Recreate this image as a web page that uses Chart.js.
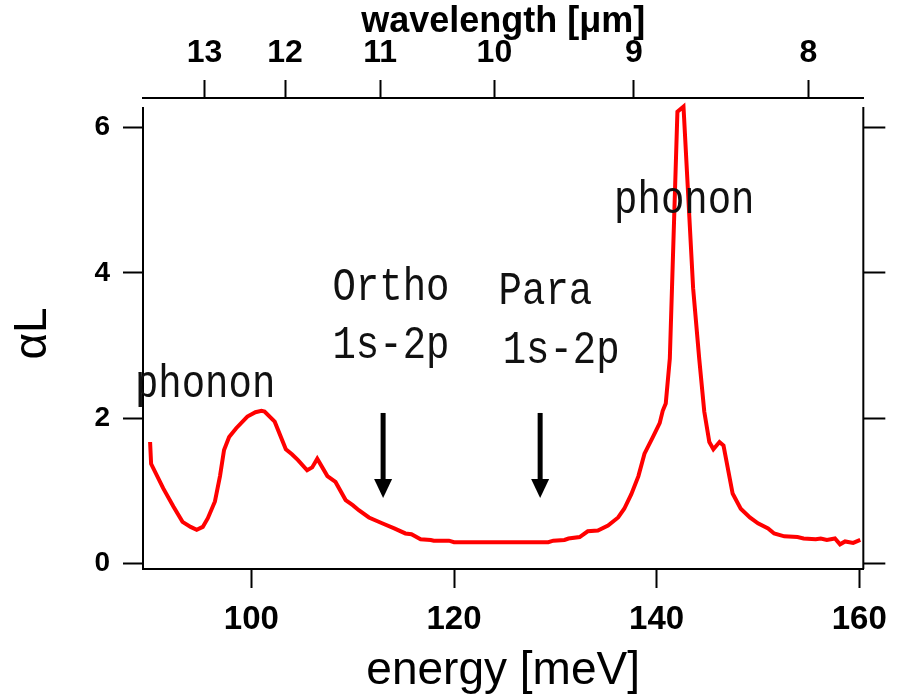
<!DOCTYPE html>
<html>
<head>
<meta charset="utf-8">
<script src="https://cdn.jsdelivr.net/npm/chart.js@4.4.0/dist/chart.umd.min.js"></script>
<style>
  html, body { margin: 0; padding: 0; background: #fff; }
</style>
</head>
<body>
<canvas id="absChart" width="899" height="699"></canvas>
<script>
// absorption spectrum
const energy = [
  90.0, 90.1, 91.3, 92.3, 93.2, 94.0, 94.6, 95.2, 95.7, 96.4,
  96.9, 97.3, 97.8, 98.5, 99.6, 100.4, 101.0, 101.3, 102.3, 103.4,
  104.0, 104.6, 105.5, 106.0, 106.5, 107.5, 108.3, 109.3, 110.0, 110.6,
  111.6, 112.9, 114.1, 115.2, 115.8, 116.7, 117.7, 118.0, 119.5, 120.0,
  122.0, 124.0, 126.0, 128.0, 129.3, 129.8, 130.9, 131.3, 132.4, 133.2,
  134.2, 135.2, 136.2, 136.8, 137.5, 138.2, 138.8, 139.6, 140.3, 140.6,
  140.9, 141.3, 142.05, 142.65, 143.6, 144.2, 144.7, 145.2, 145.6, 146.2,
  146.6, 147.5, 148.3, 149.2, 150.0, 151.0, 151.6, 152.6, 153.9, 154.5,
  155.7, 156.2, 156.8, 157.6, 158.1, 158.6, 159.4, 160.1
];
const alphaL = [
  1.67, 1.37, 1.03, 0.78, 0.57, 0.50, 0.46, 0.50, 0.62, 0.85,
  1.20, 1.56, 1.74, 1.86, 2.02, 2.08, 2.10, 2.09, 1.95, 1.57,
  1.50, 1.42, 1.28, 1.32, 1.44, 1.20, 1.12, 0.87, 0.80, 0.73,
  0.63, 0.55, 0.48, 0.41, 0.40, 0.33, 0.32, 0.31, 0.31, 0.29,
  0.29, 0.29, 0.29, 0.29, 0.29, 0.31, 0.32, 0.34, 0.36, 0.44,
  0.45, 0.52, 0.63, 0.75, 0.95, 1.20, 1.51, 1.73, 1.93, 2.10,
  2.20, 2.82, 6.22, 6.29, 3.79, 2.82, 2.09, 1.67, 1.57, 1.67,
  1.62, 0.96, 0.75, 0.63, 0.55, 0.48, 0.41, 0.37, 0.36, 0.34,
  0.33, 0.34, 0.32, 0.34, 0.26, 0.30, 0.28, 0.32
];

const energyTicks = [100, 120, 140, 160];
const yTicks = [0, 2, 4, 6];
const wavelengthTicks = [13, 12, 11, 10, 9, 8];
const HC = 1239.84; // meV * um

// text notes and arrows, placed in data units
const notes = [
  { text: 'phonon', x: 88.5, y: 2.29 },
  { text: 'Ortho', x: 108.0, y: 3.63 },
  { text: '1s-2p', x: 108.0, y: 2.83 },
  { text: 'Para', x: 124.4, y: 3.57 },
  { text: '1s-2p', x: 124.8, y: 2.76 },
  { text: 'phonon', x: 135.8, y: 4.83 }
];
const arrows = [
  { x: 113.0, from: 2.07, to: 0.90 },
  { x: 128.5, from: 2.07, to: 0.90 }
];

const sans = '"Liberation Sans", Arial, sans-serif';

const notesPlugin = {
  id: 'notes',
  afterDraw(chart) {
    const ctx = chart.ctx;
    const xs = chart.scales.x, ys = chart.scales.y;
    const area = chart.chartArea;
    ctx.save();
    // left / right frame lines stop a bit below the top axis
    ctx.strokeStyle = '#000';
    ctx.lineWidth = 2;
    ctx.beginPath();
    ctx.moveTo(area.left, area.top + 9);
    ctx.lineTo(area.left, area.bottom);
    ctx.moveTo(area.right, area.top + 9);
    ctx.lineTo(area.right, area.bottom);
    ctx.stroke();

    ctx.fillStyle = '#111';
    ctx.font = '39px "Liberation Mono", "Courier New", monospace';
    ctx.textAlign = 'left';
    ctx.textBaseline = 'alphabetic';
    notes.forEach(n => {
      ctx.save();
      ctx.translate(xs.getPixelForValue(n.x), ys.getPixelForValue(n.y));
      ctx.scale(1, 1.18);
      ctx.fillText(n.text, 0, 0);
      ctx.restore();
    });

    ctx.fillStyle = '#000';
    ctx.lineWidth = 5;
    arrows.forEach(a => {
      const px = xs.getPixelForValue(a.x);
      const top = ys.getPixelForValue(a.from);
      const tip = ys.getPixelForValue(a.to);
      ctx.beginPath();
      ctx.moveTo(px, top);
      ctx.lineTo(px, tip - 16);
      ctx.stroke();
      ctx.beginPath();
      ctx.moveTo(px - 9, tip - 19);
      ctx.lineTo(px + 9, tip - 19);
      ctx.lineTo(px, tip);
      ctx.closePath();
      ctx.fill();
    });
    ctx.restore();
  }
};

new Chart(document.getElementById('absChart'), {
  type: 'line',
  data: {
    datasets: [{
      label: 'alphaL',
      data: energy.map((e, i) => ({ x: e, y: alphaL[i] })),
      borderColor: '#ff0000',
      borderWidth: 4,
      pointRadius: 0,
      tension: 0,
      fill: false
    }]
  },
  options: {
    responsive: false,
    animation: false,
    layout: { padding: 0 },
    plugins: {
      legend: { display: false },
      tooltip: { enabled: false }
    },
    scales: {
      x: {
        type: 'linear',
        position: 'bottom',
        min: 89.3,
        max: 160.4,
        afterBuildTicks: s => { s.ticks = energyTicks.map(v => ({ value: v })); },
        afterFit: s => { s.height = 130; },
        grid: { drawOnChartArea: false, tickLength: 19, tickWidth: 2, tickColor: '#000' },
        border: { color: '#000', width: 2 },
        ticks: { color: '#000', padding: 12, maxRotation: 0, font: { family: sans, size: 33, weight: 'bold' } },
        title: { display: true, text: 'energy [meV]', color: '#000', padding: 0, font: { family: sans, size: 46 } }
      },
      x2: {
        type: 'linear',
        position: 'top',
        min: 89.3,
        max: 160.4,
        afterBuildTicks: s => { s.ticks = wavelengthTicks.map(w => ({ value: HC / w })); },
        afterFit: s => { s.height = 98; },
        grid: { drawOnChartArea: false, tickLength: 18, tickWidth: 2, tickColor: '#000' },
        border: { color: '#000', width: 2 },
        ticks: {
          color: '#000', padding: 8, maxRotation: 0,
          font: { family: sans, size: 32, weight: 'bold' },
          callback: (v, i) => String(wavelengthTicks[i])
        },
        title: { display: true, text: 'wavelength [\u03bcm]', color: '#000', padding: { top: 0, bottom: 0 }, font: { family: sans, size: 36, weight: 'bold' } }
      },
      y: {
        type: 'linear',
        position: 'left',
        min: -0.08,
        max: 6.41,
        afterBuildTicks: s => { s.ticks = yTicks.map(v => ({ value: v })); },
        afterFit: s => { s.width = 143; },
        grid: { drawOnChartArea: false, tickLength: 20, tickWidth: 2, tickColor: '#000' },
        border: { display: false },
        ticks: { color: '#000', padding: 13, font: { family: sans, size: 28, weight: 'bold' } },
        title: { display: true, text: '\u03b1L', color: '#000', padding: { top: 6, bottom: 0 }, font: { family: sans, size: 46 } }
      },
      y2: {
        type: 'linear',
        position: 'right',
        min: -0.08,
        max: 6.41,
        afterBuildTicks: s => { s.ticks = yTicks.map(v => ({ value: v })); },
        afterFit: s => { s.width = 33; },
        grid: { drawOnChartArea: false, tickLength: 22, tickWidth: 2, tickColor: '#000' },
        border: { display: false },
        ticks: { display: true, callback: () => '' }
      }
    }
  },
  plugins: [notesPlugin]
});
</script>
</body>
</html>
